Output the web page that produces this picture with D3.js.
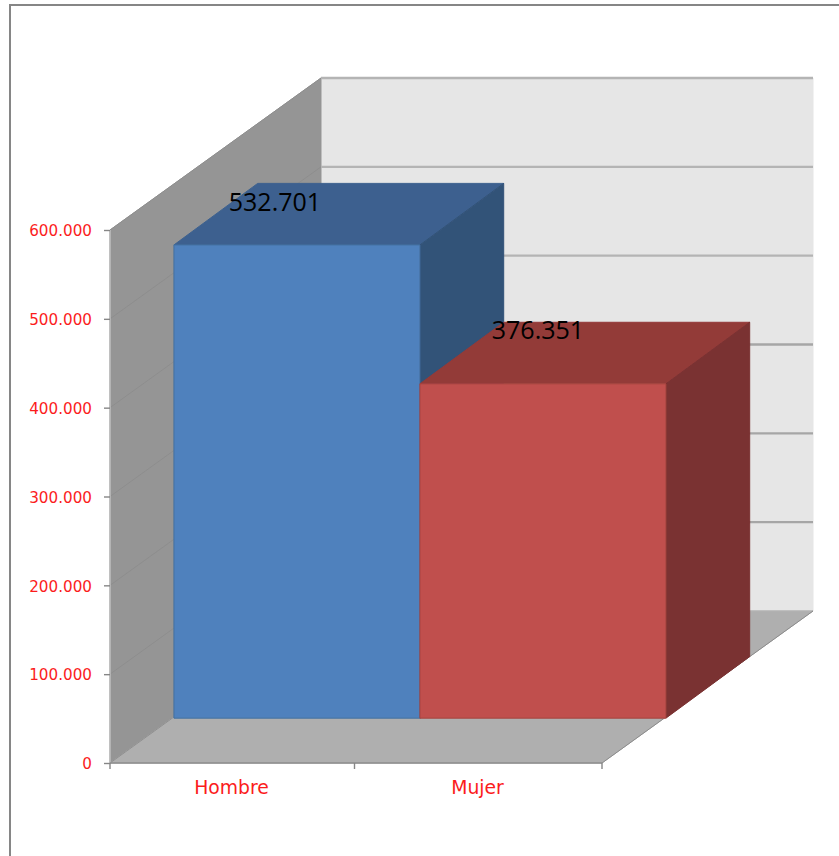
<!DOCTYPE html>
<html><head><meta charset="utf-8">
<script src="https://cdnjs.cloudflare.com/ajax/libs/d3/7.8.5/d3.min.js"></script>
<style>html,body{margin:0;padding:0;background:#fff;overflow:hidden}svg{display:block}</style>
</head><body><svg id="c" width="839" height="856"></svg>
<script>
const categories = ["Hombre", "Mujer"];
const values = [532701, 376351];
const yTicks = [0, 100000, 200000, 300000, 400000, 500000, 600000];

const svg = d3.select("#c");
const defs = svg.append("defs");
defs.append("filter").attr("id","soft").attr("x","-5%").attr("y","-5%").attr("width","110%").attr("height","110%")
  .append("feGaussianBlur").attr("stdDeviation",0.55);

const x = d3.scaleBand().domain(categories).range([110,602]);
const y = d3.scaleLinear().domain([0,600000]).range([763,230]);
const dx = d3.scaleLinear().domain([0,1]).range([0,211]);
const dy = d3.scaleLinear().domain([0,1]).range([0,-152]);
const P = (px,py,t,ty=t)=>[px+dx(t), py+dy(ty)];
const poly = (g,pts,fill,stroke)=>g.append("polygon").attr("points",pts.map(p=>p.join(",")).join(" "))
  .attr("fill",fill).attr("stroke",stroke||fill).attr("stroke-width",1).attr("stroke-linejoin","round");

// Chart frame
svg.append("rect").attr("x",10).attr("y",5).attr("width",1000).attr("height",1000)
  .attr("fill","#fff").attr("stroke","#868686").attr("stroke-width",2);

const g = svg.append("g").attr("filter","url(#soft)");
const [x0,x1]=x.range(), y0=y(0), yT=y(600000);

// Walls and floor
poly(g,[P(x0,yT,1),P(x1,yT,1),P(x1,y0,1),P(x0,y0,1)],"#e6e6e6");
poly(g,[P(x0,yT,0),P(x0,yT,1),P(x0,y0,1),P(x0,y0,0)],"#959595");
poly(g,[P(x0,y0,0),P(x0,y0,1),P(x1,y0,1),P(x1,y0,0)],"#afafaf");

// Gridlines on side and back wall
yTicks.forEach(v=>{
  const a=P(x0,y(v),0), b=P(x0,y(v),1), c=P(x1,y(v),1);
  g.append("line").attr("x1",a[0]).attr("y1",a[1]).attr("x2",b[0]).attr("y2",b[1])
    .attr("stroke","#8c8c8c").attr("stroke-width",0.9);
  g.append("line").attr("x1",b[0]).attr("y1",b[1]).attr("x2",c[0]).attr("y2",c[1])
    .attr("stroke",v>0&&v<=300000?"#a6a6a6":"#b4b4b4").attr("stroke-width",v===0?1:2.4);
});
g.append("line").attr("x1",x0).attr("y1",yT).attr("x2",x0).attr("y2",y0).attr("stroke","#bdbdbd").attr("stroke-width",1.6);
g.append("line").attr("x1",x0).attr("y1",y0).attr("x2",x1).attr("y2",y0).attr("stroke","#8c8c8c").attr("stroke-width",1.4);
g.append("line").attr("x1",x1).attr("y1",y0).attr("x2",P(x1,y0,1)[0]).attr("y2",P(x1,y0,1)[1]).attr("stroke","#8c8c8c").attr("stroke-width",1);

// Bars (3D boxes)
const tF=0.303, tFy=0.295, tB=0.70, tBy=0.70;
const pal=[{f:"#4f81bd",t:"#3d618f",s:"#325278",e:"#44709f"},{f:"#c0504d",t:"#933a38",s:"#7a3030",e:"#a5433f"}];
categories.forEach((c,i)=>{
  const l=x(c), r=l+x.bandwidth(), top=y(values[i]);
  poly(g,[P(l,top,tF,tFy),P(r,top,tF,tFy),P(r,top,tB,tBy),P(l,top,tB,tBy)],pal[i].t);
  poly(g,[P(r,top,tF,tFy),P(r,top,tB,tBy),P(r,y0,tB,tBy),P(r,y0,tF,tFy)],pal[i].s);
  poly(g,[P(l,top,tF,tFy),P(r,top,tF,tFy),P(r,y0,tF,tFy),P(l,y0,tF,tFy)],pal[i].f,pal[i].e);
});

// Axes
const loc=d3.formatLocale({decimal:",",thousands:".",grouping:[3],currency:["",""]});
const fmt=loc.format(",");
const axY=svg.append("g").attr("transform",`translate(${x0},0)`)
  .call(d3.axisLeft(y).tickValues(yTicks).tickFormat(fmt).tickSize(6).tickPadding(12).tickSizeOuter(0));
const axX=svg.append("g").attr("transform",`translate(-1.5,${y0})`)
  .call(d3.axisBottom(x).tickSize(0).tickPadding(18));
axX.selectAll(".boundary").data([x0+1.5,x(categories[1]),x1+1.5]).enter().append("line")
  .attr("class","boundary").attr("x1",d=>d).attr("x2",d=>d).attr("y1",0).attr("y2",6).attr("stroke","#868686").attr("stroke-width",1.4);
[axY,axX].forEach(a=>{
  a.select(".domain").remove();
  a.selectAll(".tick line").attr("stroke","#868686").attr("stroke-width",1.4);
  a.selectAll("text").attr("fill","#fb1c1c").attr("font-family","'DejaVu Sans',sans-serif");
});
axX.selectAll("text").attr("font-size",18.8);
axY.selectAll("text").attr("font-size",15.2).attr("dy","0.38em");

// Value labels
const labelShift=[[-22,-34],[-5,-45]];
svg.append("g").selectAll("text").data(values).enter().append("text")
  .attr("x",(d,i)=>x(categories[i])+x.bandwidth()/2+dx(tF)+labelShift[i][0])
  .attr("y",(d,i)=>P(0,y(d),tF,tFy)[1]+labelShift[i][1])
  .attr("text-anchor","middle").attr("font-family","'Open Sans',sans-serif").attr("font-size",25).attr("fill","#000")
  .text(d=>fmt(d));
</script></body></html>
